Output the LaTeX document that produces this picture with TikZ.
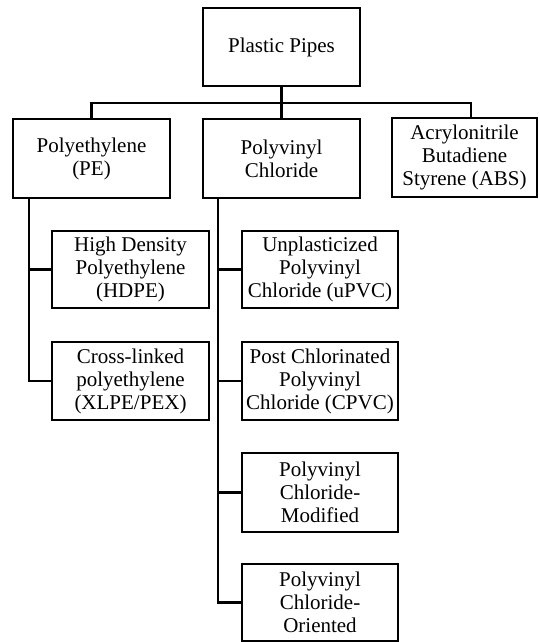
\documentclass[tikz,border=0pt]{standalone}
\usepackage{fontspec}
\setmainfont{Liberation Serif}
\begin{document}
\begin{tikzpicture}[x=1pt,y=-1pt,
  line width=2.6pt, line join=miter,
  box/.style={draw, inner sep=0pt, align=center, minimum width=157pt,
    font=\fontsize{21}{23}\selectfont, text=black},
  link/.style={draw, line width=2.6pt}]
\useasboundingbox (0,0) rectangle (540,642);
% level 0
\node[box, minimum height=78pt] (root) at (281.5,47) {Plastic Pipes};
% level 1
\node[box, minimum height=79pt] (pe)  at (91.5,158.5)  {Polyethylene\\(PE)};
\node[box, minimum height=79pt] (pvc) at (281.5,158.5) {Polyvinyl\\Chloride};
\node[box, minimum height=79pt, minimum width=145pt] (abs) at (464.5,157.5) {Acrylonitrile\\Butadiene\\Styrene (ABS)};
% PE children
\node[box, minimum height=77pt] (hdpe) at (130.5,269.5) {High Density\\Polyethylene\\(HDPE)};
\node[box, minimum height=78pt] (xlpe) at (130.5,381) {Cross-linked\\polyethylene\\(XLPE/PEX)};
% PVC children
\node[box, minimum height=77pt, minimum width=156pt] (upvc) at (320,269.5) {Unplasticized\\Polyvinyl\\Chloride (uPVC)};
\node[box, minimum height=78pt, minimum width=156pt] (cpvc) at (320,381) {Post Chlorinated\\Polyvinyl\\Chloride (CPVC)};
\node[box, minimum height=79pt, minimum width=156pt] (mod) at (320,492.5) {Polyvinyl\\Chloride-\\Modified};
\node[box, minimum height=77pt, minimum width=156pt] (ori) at (320,602.5) {Polyvinyl\\Chloride-\\Oriented};
% bus
\coordinate (busL) at (91.5,103);
\coordinate (busR) at (471,103);
\coordinate (peT) at (29,198);
\coordinate (pvcT) at (218,198);
\draw[link] (root.south) -- (pvc.north);
\draw[link] (pe.north) -- (busL) -- (busR) -- (busR |- abs.north);
% PE branch
\draw[link] (peT) |- (xlpe.west);
\draw[link] (peT |- hdpe.west) -- (hdpe.west);
% PVC branch
\draw[link] (pvcT) |- (ori.west);
\draw[link] (pvcT |- upvc.west) -- (upvc.west);
\draw[link] (pvcT |- cpvc.west) -- (cpvc.west);
\draw[link] (pvcT |- mod.west) -- (mod.west);
\end{tikzpicture}
\end{document}
